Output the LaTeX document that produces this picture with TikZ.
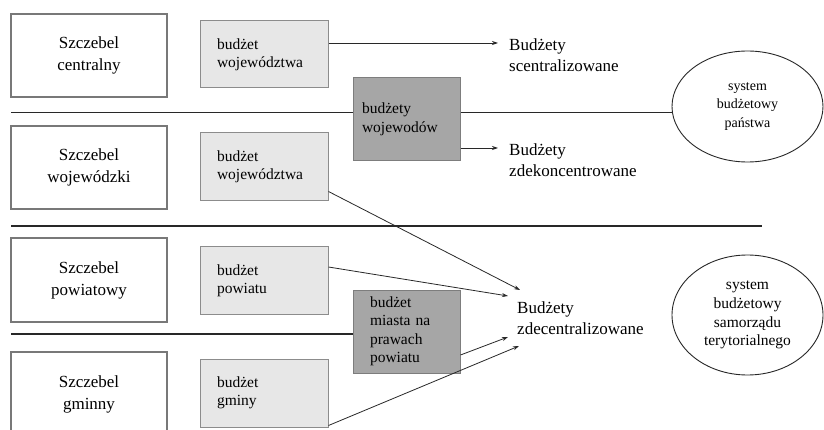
\documentclass[tikz,border=0pt]{standalone}
\usepackage{fontspec}
\setmainfont{LiberationSerif}[Extension=.ttf, UprightFont=*-Regular, BoldFont=*-Bold]
\newfontfamily\diagfont{LiberationSerif}[Extension=.ttf, UprightFont=*-Regular]
\usetikzlibrary{arrows.meta,shapes.geometric,calc}
\definecolor{lightfill}{RGB}{231,231,231}
\definecolor{lightdraw}{RGB}{140,140,140}
\definecolor{darkfill}{RGB}{166,166,166}
\definecolor{darkdraw}{RGB}{125,125,125}
\definecolor{lvldraw}{RGB}{120,120,120}
\definecolor{linecol}{RGB}{40,40,40}
\tikzset{
  lvlbox/.style={draw=lvldraw, line width=1.1pt, fill=white, minimum width=156pt, minimum height=83pt,
    align=center, inner sep=0pt, font=\diagfont\fontsize{17}{22}\selectfont},
  lbox/.style={draw=lightdraw, line width=1pt, fill=lightfill, minimum width=128pt, minimum height=67pt,
    inner xsep=17pt, inner ysep=0pt, text width=94pt, align=left, font=\diagfont\fontsize{15.5}{18}\selectfont},
  dbox/.style={draw=darkdraw, line width=1pt, fill=darkfill, minimum width=107pt, minimum height=83pt,
    inner ysep=0pt, align=left, font=\diagfont\fontsize{15.5}{18.5}\selectfont},
  ell/.style={ellipse, draw=linecol, line width=0.9pt, minimum width=151pt, inner sep=0pt, align=center},
  rtext/.style={anchor=west, inner sep=0pt, align=left, font=\diagfont\fontsize{17}{21.5}\selectfont},
  hline/.style={draw=linecol, line width=1.2pt},
  conn/.style={draw=linecol, line width=0.8pt, -{Stealth[length=6pt,width=4pt]}}
}
\begin{document}
\begin{tikzpicture}[x=1pt,y=-1pt]
\clip (0,0) rectangle (824,430);
\fill[white] (0,0) rectangle (824,430);
% horizontal lines
\coordinate (hl1) at (11,112.5);
\coordinate (hl2) at (11,226);
\coordinate (hl2e) at (762,226);
\coordinate (hl3) at (11,334);
% level boxes
\node[lvlbox] (lv1) at (89,55.5) {Szczebel\\centralny};
\node[lvlbox] (lv2) at (89,167.5) {Szczebel\\wojewódzki};
\node[lvlbox, minimum height=84pt] (lv3) at (89,280) {Szczebel\\powiatowy};
\node[lvlbox, minimum height=90pt] (lv4) at (89,397) {};
\node[align=center, inner sep=0pt, font=\diagfont\fontsize{17}{22}\selectfont] (lv4t) at (89,394.5) {Szczebel\\gminny};
% light boxes
\node[lbox] (l1) at (264,54.5) {budżet\\województwa};
\node[lbox, minimum height=68pt] (l2) at (264,167) {budżet\\województwa};
\node[lbox] (l3) at (264,280.5) {budżet\\powiatu};
\node[lbox, minimum height=68pt] (l4) at (264,393) {budżet\\gminy};
% ellipses
\node[ell, minimum height=111pt, font=\diagfont\fontsize{14}{18.5}\selectfont] (e1) at (747.5,106.5) {system\\budżetowy\\państwa};
\node[ell, minimum height=120pt, font=\diagfont\fontsize{15.5}{18.7}\selectfont] (e2) at (747.5,315) {system\\budżetowy\\samorządu\\terytorialnego};
% lines
\draw[hline] (hl1) -- (hl1 -| e1.west);
\draw[hline] (hl2) -- (hl2e);
\draw[hline] (hl3) -- ($(hl3)+(342,0)$);
% dark boxes
\node[dbox, inner xsep=9pt, text width=89pt] (d1) at (406.5,119.5) {budżety\\wojewodów};
\node[dbox, inner xsep=17pt, text width=73pt] (d2) at (406.5,331.5) {budżet\\miasta na\\prawach\\powiatu};
% right texts
\node[rtext] (r1) at (509,55) {Budżety\\scentralizowane};
\node[rtext] (r2) at (509,160) {Budżety\\zdekoncentrowane};
\node[rtext] (r3) at (517,318) {Budżety\\zdecentralizowane};
% arrow tips
\coordinate (t1) at (498,43);
\coordinate (t2) at (498,148);
\coordinate (t3) at (520,290);
\coordinate (t4) at (508,296);
\coordinate (t5) at (508,337);
\coordinate (t6) at (519,346);
\draw[conn] (l1.east |- t1) -- (t1);
\draw[conn] (d1.east |- t2) -- (t2);
\draw[conn] ([yshift=10pt]l2.south east) -- (t3);
\draw[conn] ([yshift=13.5pt]l3.east) -- (t4);
\draw[conn] ([yshift=-23.5pt]d2.east) -- (t5);
\draw[conn] ([yshift=2pt]l4.south east) -- (t6);
\end{tikzpicture}
\end{document}
